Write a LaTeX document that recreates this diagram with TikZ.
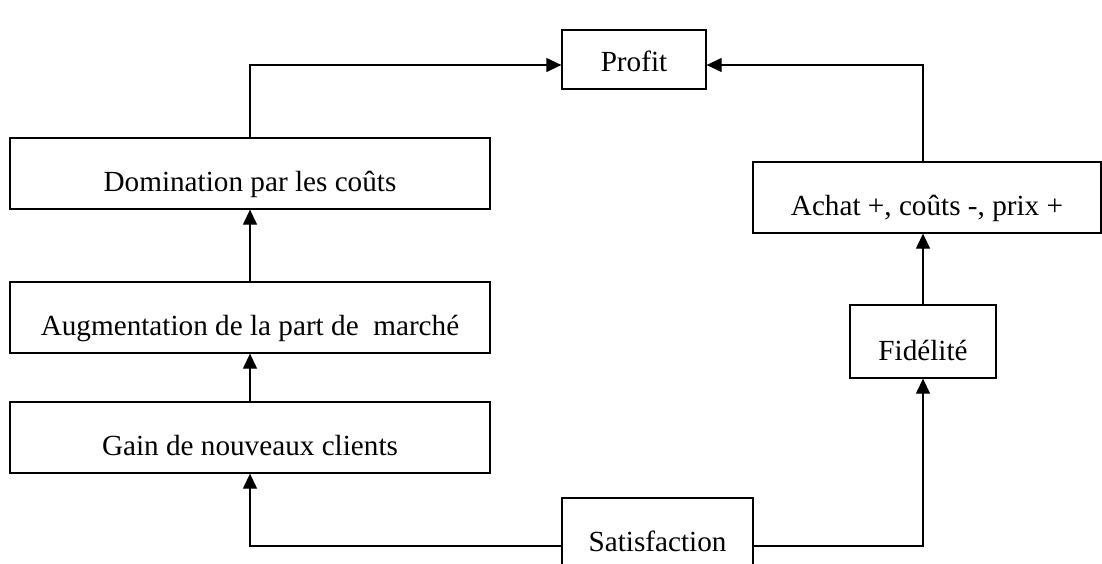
\documentclass[tikz,border=0pt]{standalone}
\usepackage{fontspec}
\setmainfont{Liberation Serif}
\usetikzlibrary{arrows.meta}
\tikzset{
  box/.style 2 args={draw, line width=0.65pt, inner sep=0pt,
    minimum width=#1, text height=#2, text depth=9pt},
  flow/.style={line width=0.65pt, -{Triangle[length=7.5pt,width=7pt]}}
}
\begin{document}
\begin{tikzpicture}[x=0.5pt, y=-0.5pt, font=\fontsize{14.6}{17}\selectfont]
      \clip (0,0) rectangle (1102,563);
      \draw
        (634,59.5) node[box={72pt}{20.5pt}] (profit){Profit}
        (250,173.5) node[box={240pt}{26.5pt}] (dom){Domination par les coûts}
        (250,317.5) node[box={240pt}{26.5pt}] (aug){Augmentation de la part de\ \ marché}
        (250,437.5) node[box={240pt}{26.5pt}] (gain){Gain de nouveaux clients}
        (927,197.5) node[box={174pt}{26.5pt}] (achat){Achat +, coûts -, prix +}
        (923,341.5) node[box={73pt}{27.5pt}] (fid){Fidélité}
        (657.5,533.5) node[box={95.5pt}{26.5pt}] (sat){Satisfaction};
      \coordinate (ptop) at (634,65);
      \coordinate (sbase) at (657.5,546);
      \begin{scope}[flow]
        \draw (dom.north) |- (profit.west |- ptop);
        \draw (fid.north |- achat.north) |- (profit.east |- ptop);
        \draw (aug.north) to (dom.south);
        \draw (gain.north) to (aug.south);
        \draw (fid.north) to (fid.north |- achat.south);
        \draw (sat.west |- sbase) -| (gain.south);
        \draw (sat.east |- sbase) -| (fid.south);
      \end{scope}
    \end{tikzpicture}
\end{document}
